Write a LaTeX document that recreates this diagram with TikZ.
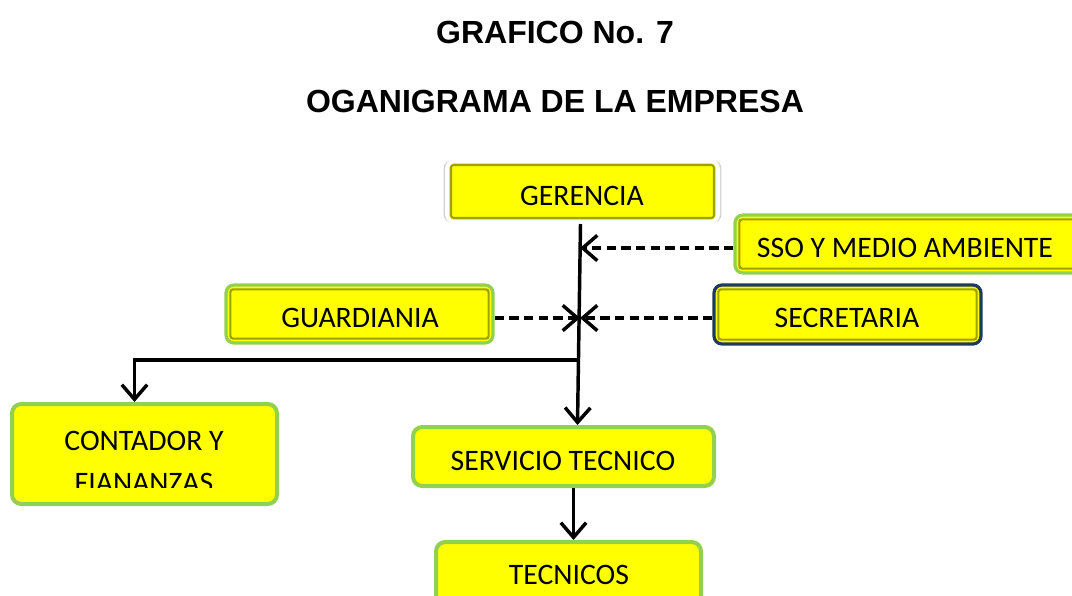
\documentclass[tikz,border=0pt]{standalone}
\usepackage{fontspec}
\setmainfont{Carlito}
\newfontfamily\arialfont{Liberation Sans}
\usetikzlibrary{arrows.meta,calc,fit,shadows}
\definecolor{ygreen}{HTML}{92D050}
\definecolor{byel}{HTML}{FFFF00}
\definecolor{bevline}{HTML}{A0A000}
\definecolor{secblue}{HTML}{1F3A60}
\tikzset{
  title/.style={font=\arialfont\bfseries\fontsize{24}{28}\selectfont, inner sep=0pt},
  txt/.style={font=\fontsize{22.3}{31.5}\selectfont, inner sep=0pt, text=black},
  plainbox/.style={fill=byel, draw=ygreen, line width=3pt, rounded corners=7pt, inner sep=0pt},
  bevbox/.style={fill=byel, draw=ygreen, line width=2.4pt, rounded corners=6pt, inner sep=0pt},
  secbox/.style={bevbox, draw=secblue},
  gerbox/.style={bevbox, draw=white, line width=3pt,
    drop shadow={shadow xshift=0pt, shadow yshift=0pt, shadow scale=1.025, fill=black, opacity=0.18}},
  bevin/.style={draw=bevline, line width=1.6pt, rounded corners=2pt},
  mainarr/.style={line width=2.6pt, -{Straight Barb[length=11pt,width=19pt]}},
  dasharr/.style={line width=2.6pt, dash pattern=on 7pt off 4pt, -{Straight Barb[length=11pt,width=19pt]}}
}
\begin{document}
\begin{tikzpicture}[x=0.75pt,y=-0.75pt]
\useasboundingbox (0,0) rectangle (1072,596);

% titles
\node[title] (t1) at (555,32) {GRAFICO No. 7};
\node[title] (t2) at (555,101) {OGANIGRAMA DE LA EMPRESA};

% boxes
\node[gerbox, fit={(447,161)(718,222)}] (ger) {};
\draw[bevin] ($(ger.north west)+(6,6)$) rectangle ($(ger.south east)+(-6,-6)$);
\node[txt] (tger) at (582,196) {GERENCIA};

\node[bevbox, fit={(735,215)(1080,273)}] (sso) {};
\draw[bevin] ($(sso.north west)+(6,6)$) rectangle ($(sso.south east)+(-6,-6)$);
\node[txt] (tsso) at (905,248) {SSO Y MEDIO AMBIENTE};

\node[bevbox, fit={(226,285)(493,343)}] (guard) {};
\draw[bevin] ($(guard.north west)+(6,6)$) rectangle ($(guard.south east)+(-6,-6)$);
\node[txt] (tguard) at (360,318) {GUARDIANIA};

\node[secbox, fit={(714,285)(981,344)}] (sec) {};
\draw[bevin] ($(sec.north west)+(6,6)$) rectangle ($(sec.south east)+(-6,-6)$);
\node[txt] (tsec) at (847,318) {SECRETARIA};

\node[plainbox, fit={(12,404)(277,504)}] (cont) {};
\begin{scope}
  \clip (0,0) rectangle (1072,487);
  \node[txt, align=center] (tcont) at (144,462) {CONTADOR Y\\FIANANZAS};
\end{scope}

\node[plainbox, fit={(413,427)(714,486)}] (serv) {};
\node[txt] (tserv) at (563,461) {SERVICIO TECNICO};

\node[plainbox, fit={(436,542)(701,612)}] (tec) {};
\node[txt] (ttec) at (569,575) {TECNICOS};

% connectors
\coordinate (j1) at (580,248);
\coordinate (j2) at (580,318);
\coordinate (j3) at (580,360);

\draw[mainarr] ($(ger.south)+(-2,0)$) -- ($(serv.north)+(14,0)$);
\draw[dasharr] (j1 -| sso.west) -- (j1);
\draw[dasharr] (j2 -| guard.east) -- (j2);
\draw[dasharr] (j2 -| sec.west) -- (j2);
\draw[mainarr] (j3) -| ($(cont.north)+(-10,0)$);
\draw[mainarr] ($(serv.south)+(10,0)$) -- ($(tec.north)+(5,0)$);
\end{tikzpicture}
\end{document}
